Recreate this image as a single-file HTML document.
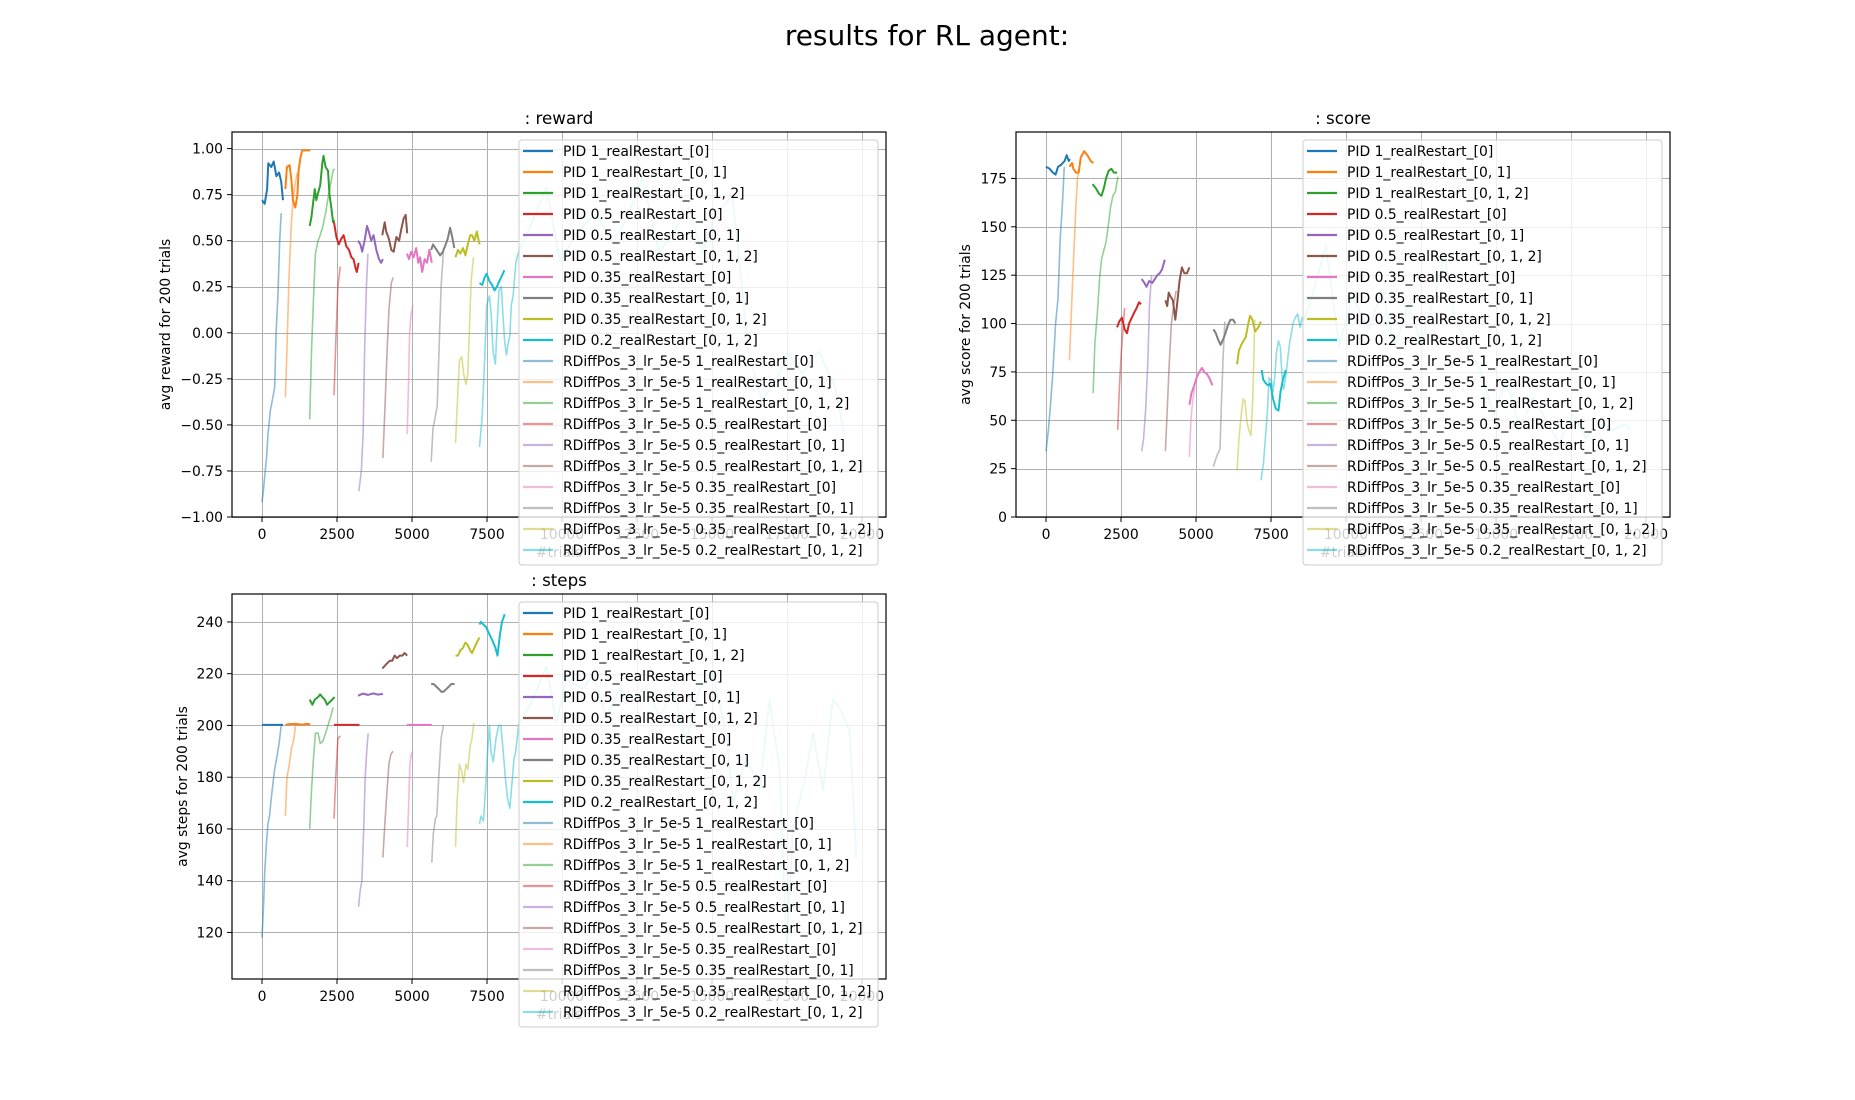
<!DOCTYPE html>
<html><head><meta charset="utf-8"><style>
html,body{margin:0;padding:0;background:#fff;}
svg{display:block;font-family:"DejaVu Sans","Liberation Sans",sans-serif;}
</style></head><body>
<svg id="fig" width="1855" height="1100" viewBox="0 0 1855 1100" xmlns="http://www.w3.org/2000/svg">
<rect width="1855" height="1100" fill="#fff"/>
<text x="927" y="45" font-size="28" text-anchor="middle">results for RL agent:</text>
</svg>
<script>
const seriesNames = ["PID 1_realRestart_[0]","PID 1_realRestart_[0, 1]","PID 1_realRestart_[0, 1, 2]","PID 0.5_realRestart_[0]","PID 0.5_realRestart_[0, 1]","PID 0.5_realRestart_[0, 1, 2]","PID 0.35_realRestart_[0]","PID 0.35_realRestart_[0, 1]","PID 0.35_realRestart_[0, 1, 2]","PID 0.2_realRestart_[0, 1, 2]","RDiffPos_3_lr_5e-5 1_realRestart_[0]","RDiffPos_3_lr_5e-5 1_realRestart_[0, 1]","RDiffPos_3_lr_5e-5 1_realRestart_[0, 1, 2]","RDiffPos_3_lr_5e-5 0.5_realRestart_[0]","RDiffPos_3_lr_5e-5 0.5_realRestart_[0, 1]","RDiffPos_3_lr_5e-5 0.5_realRestart_[0, 1, 2]","RDiffPos_3_lr_5e-5 0.35_realRestart_[0]","RDiffPos_3_lr_5e-5 0.35_realRestart_[0, 1]","RDiffPos_3_lr_5e-5 0.35_realRestart_[0, 1, 2]","RDiffPos_3_lr_5e-5 0.2_realRestart_[0, 1, 2]"];
const xTicks = [0,2500,5000,7500,10000,12500,15000,17500,20000];
const rewardTicks = [-1.0,-0.75,-0.5,-0.25,0,0.25,0.5,0.75,1.0];
const scoreTicks = [0,25,50,75,100,125,150,175];
const stepsTicks = [120,140,160,180,200,220,240];

const rewardX = [
[0,90,170,210,310,390,480,570,640,700],
[780,830,920,980,1030,1110,1180,1220,1280,1340,1480,1610],
[1590,1650,1700,1760,1810,1870,1940,2010,2050,2120,2200,2250,2310,2370,2420],
[2400,2480,2560,2640,2720,2810,2900,2980,3050,3120,3160,3220],
[3200,3280,3340,3420,3500,3560,3640,3720,3810,3900,3970,4030],
[4010,4090,4140,4230,4310,4390,4480,4570,4640,4720,4790,4840],
[4830,4900,4970,5050,5140,5210,5270,5340,5420,5500,5580,5660],
[5640,5700,5780,5860,5940,6030,6100,6190,6270,6340,6410],
[6450,6530,6610,6700,6780,6860,6940,7000,7080,7160,7250],
[7250,7340,7420,7490,7580,7670,7750,7830,7910,8000,8080],
[0,50,90,150,200,280,340,420,470,530,590,640],
[780,830,900,980,1050,1120,1180],
[1590,1650,1720,1780,1870,1940,2030,2120,2200,2280,2370,2420],
[2400,2460,2530,2610],
[3230,3310,3370,3420,3480,3530],
[4030,4100,4170,4230,4310,4370],
[4840,4880,4920,4970,5030],
[5640,5700,5780,5840,5900,5970,6050],
[6450,6520,6580,6660,6720,6800,6860,6910,6970,7050],
[7250,7340,7420,7490,7580,7640,7700,7780,7840,7900,7980,8030,8090,8150,8200,8260,8310,8370,8460,8570,8920,9480,9920,10580,11140,11690,12130,12680,13240,13790,14240,14680,15120,15680,16230,16670,17120,17560,18000,18560,19120,19400]
];
const rewardY = [
[0.72,0.70,0.78,0.92,0.90,0.93,0.85,0.87,0.82,0.72],
[0.78,0.90,0.91,0.83,0.72,0.68,0.75,0.88,0.95,0.99,0.99,0.99],
[0.58,0.63,0.70,0.78,0.72,0.76,0.80,0.92,0.96,0.90,0.88,0.75,0.68,0.60,0.61],
[0.60,0.52,0.48,0.51,0.53,0.47,0.45,0.41,0.40,0.35,0.33,0.38],
[0.50,0.48,0.44,0.50,0.58,0.55,0.50,0.53,0.45,0.40,0.38,0.40],
[0.53,0.60,0.55,0.51,0.45,0.44,0.52,0.50,0.56,0.62,0.64,0.54],
[0.43,0.40,0.44,0.41,0.46,0.38,0.41,0.33,0.40,0.38,0.45,0.38],
[0.45,0.48,0.46,0.44,0.42,0.44,0.47,0.51,0.57,0.52,0.46],
[0.41,0.45,0.43,0.46,0.42,0.48,0.53,0.53,0.50,0.55,0.48],
[0.27,0.26,0.30,0.32,0.28,0.26,0.23,0.25,0.28,0.31,0.34],
[-0.92,-0.85,-0.78,-0.68,-0.55,-0.42,-0.37,-0.30,0.0,0.2,0.5,0.65],
[-0.35,-0.1,0.3,0.6,0.75,0.82,0.87],
[-0.47,-0.1,0.2,0.43,0.50,0.53,0.58,0.65,0.73,0.80,0.88,0.89],
[-0.34,-0.05,0.25,0.36],
[-0.86,-0.75,-0.55,-0.1,0.25,0.43],
[-0.68,-0.40,-0.1,0.12,0.27,0.30],
[-0.55,-0.30,0.0,0.1,0.15],
[-0.70,-0.52,-0.45,-0.40,-0.1,0.25,0.45],
[-0.60,-0.35,-0.15,-0.13,-0.22,-0.28,-0.22,0.0,0.28,0.41],
[-0.62,-0.45,-0.15,0.15,0.20,0.10,-0.10,-0.17,0.05,0.23,0.25,0.10,-0.05,-0.12,-0.06,-0.02,0.15,0.20,0.38,0.45,0.57,0.79,0.39,0.56,0.65,0.49,0.61,0.84,0.43,0.57,0.68,0.43,0.65,0.74,-0.11,-0.37,-0.26,-0.11,-0.22,-0.10,-0.30,-0.55]
];

const scoreX = [
[0,120,230,320,400,500,620,690,760,800],
[780,870,910,1000,1090,1160,1270,1380,1490,1580],
[1550,1660,1770,1850,1930,2000,2090,2180,2260,2370],
[2370,2440,2530,2620,2700,2770,2860,2950,3020,3100,3170],
[3190,3280,3350,3440,3540,3630,3710,3790,3870,3960],
[3980,4040,4090,4150,4230,4310,4370,4450,4530,4610,4700,4780],
[4780,4850,4940,5020,5110,5200,5270,5360,5440,5550],
[5580,5660,5730,5820,5910,5980,6060,6150,6240,6310],
[6370,6430,6510,6580,6660,6730,6800,6880,6970,7080,7160],
[7190,7240,7330,7410,7480,7570,7660,7750,7820,7900,7990],
[0,80,150,230,320,400,470,540,610],
[780,830,910,1000,1050,1100],
[1570,1630,1710,1790,1850,1930,2000,2070,2150,2230,2310,2400],
[2390,2440,2510,2570,2620],
[3190,3250,3320,3390,3450,3520],
[3980,4040,4110,4180,4260,4340],
[4780,4830,4890,4960],
[5580,5660,5730,5800,5850,5910,5960],
[6370,6430,6500,6570,6630,6700,6760,6830,6890,6960],
[7170,7250,7310,7380,7440,7520,7570,7630,7680,7750,7810,7880,7920,7990,8060,8120,8170,8230,8310,8390,8470,8540,8600,8790,9330,9770,10210,10760,11200,11640,12070,12510,12950,13280,13610,14040,14480,14920,15360,15800,16240,16680,17110,17550,17990,18430,18870,19310,19480]
];
const scoreY = [
[181,180,178,177,181,182,184,187,184,185],
[181,183,180,178,178,186,189,187,184,183],
[172,170,167,166,170,175,179,180,178,178],
[98,101,103,97,95,100,103,106,108,111,110],
[123,121,119,122,121,123,125,126,128,133],
[112,109,116,114,112,102,110,122,129,126,126,129],
[58,64,68,72,75,77,75,74,72,68],
[97,95,92,89,92,95,99,102,102,100],
[79,86,89,91,93,99,104,102,96,98,101],
[76,71,69,68,69,61,56,55,65,71,76],
[34,45,58,75,100,113,143,160,181],
[81,100,130,162,175,180],
[64,90,105,124,133,138,142,150,160,166,168,176],
[45,65,85,98,108],
[34,40,55,78,110,125],
[34,55,80,100,110,117],
[31,50,60,67],
[26,30,33,35,60,85,101],
[24,40,52,61,60,49,45,42,60,102],
[19,28,40,55,72,70,65,73,85,91,88,70,66,72,82,90,94,100,103,105,98,103,102,110,140,88,114,97,117,88,110,90,114,135,104,88,76,53,71,45,62,50,38,53,41,50,45,48,45]
];

const stepsX = [
[0,700],
[780,920,1060,1200,1340,1480,1610],
[1590,1680,1760,1870,1940,2010,2090,2170,2250,2340,2420],
[2400,3250],
[3200,3370,3530,3700,3870,4030],
[4010,4090,4170,4260,4340,4420,4500,4590,4680,4750,4840],
[4830,5660],
[5640,5720,5810,5900,5980,6050,6140,6230,6310,6420],
[6450,6530,6610,6700,6780,6860,6940,7000,7080,7160,7250],
[7250,7300,7380,7470,7550,7630,7710,7780,7850,7930,8000,8090],
[0,50,90,150,200,250,310,370,420,500,570,640],
[780,830,900,980,1050,1120],
[1590,1650,1720,1780,1870,1940,2030,2120,2200,2280,2370],
[2400,2460,2530,2610],
[3220,3270,3330,3390,3440,3490,3540],
[4030,4100,4170,4230,4300,4370],
[4840,4890,4930,4980,5030],
[5660,5710,5780,5830,5890,5970,6050],
[6450,6500,6580,6660,6720,6800,6860,6940,7000,7060],
[7250,7300,7380,7450,7520,7580,7630,7710,7800,7890,7960,8040,8110,8180,8260,8350,8400,8460,8550,8590,9030,9480,9810,10150,10700,11030,11480,11920,12370,12810,13260,13700,14140,14590,15030,15480,15700,16150,16590,16920,17260,17480,17700,18140,18370,18700,19030,19250,19590,19810]
];
const stepsY = [
[200.2,200.2],
[200.3,200.5,200.6,200.5,200.3,200.6,200.4],
[210,208,210,211,212,211,210,208,209,210,211],
[200.2,200.2],
[211.5,212.3,211.8,212.4,211.9,212.2],
[222,223,224,225,225,227,226,227,227,228,227],
[200.2,200.2],
[216,216,215,214,213,213,214,215,216,216],
[227,227,229,230,232,231,229,228,230,232,234],
[239,240,239,238,236,234,232,230,227,235,240,243],
[118,130,143,155,162,165,172,178,183,188,193,200],
[165,180,184,191,194,200],
[160,175,188,197,197,193,194,197,200,203,207],
[164,180,195,196],
[130,136,140,160,180,190,197],
[149,163,175,185,189,190],
[153,170,185,189,190],
[147,158,164,165,180,195,200],
[153,170,185,182,178,185,183,192,195,201],
[162,165,163,175,190,200,190,186,195,200,200,190,180,172,168,180,187,190,200,201,210,223,201,218,214,220,203,214,210,215,203,214,194,214,220,196,170,188,175,210,182,114,160,182,197,175,210,207,198,149]
];

const colors = ["#1f77b4","#ff7f0e","#2ca02c","#d62728","#9467bd","#8c564b","#e377c2","#7f7f7f","#bcbd22","#17becf"];
const NS = "http://www.w3.org/2000/svg";
const svg = document.getElementById('fig');

function mk(tag, attrs, parent){
  const e = document.createElementNS(NS, tag);
  for (const k in attrs) e.setAttribute(k, attrs[k]);
  (parent||svg).appendChild(e);
  return e;
}

function drawChart(cfg){
  const g = mk('g', {});
  
  
  const L=cfg.left, T=cfg.top, R=cfg.right, B=cfg.bottom;
  const sx = v => L + (v - cfg.xmin) / (cfg.xmax - cfg.xmin) * (R - L);
  const sy = v => B - (v - cfg.ymin) / (cfg.ymax - cfg.ymin) * (B - T);
  const clip = mk('clipPath', {id: 'clip-' + cfg.name}, g);
  mk('rect', {x:L, y:T, width:R-L, height:B-T}, clip);
  const grid = mk('g', {stroke:'#b0b0b0', 'stroke-width':1}, g);
  
  
  xTicks.forEach(v => { const x = Math.round(sx(v))+0.5; mk('line', {x1:x, x2:x, y1:T, y2:B}, grid); });
  cfg.yticks.forEach(v => { const y = Math.round(sy(v))+0.5; mk('line', {x1:L, x2:R, y1:y, y2:y}, grid); });
  xTicks.forEach(v => {
    const x = sx(v);
    mk('line', {x1:x, x2:x, y1:B, y2:B+5, stroke:'#000', 'stroke-width':1}, g);
    const t = mk('text', {x:x, y:B+22, 'font-size':13.9, 'text-anchor':'middle'}, g);
    
    
    t.textContent = String(v);
  });
  cfg.yticks.forEach(v => {
    const y = sy(v);
    mk('line', {x1:L-5, x2:L, y1:y, y2:y, stroke:'#000', 'stroke-width':1}, g);
    const t = mk('text', {x:L-9, y:y+5, 'font-size':13.9, 'text-anchor':'end'}, g);
    
    
    t.textContent = cfg.fmt(v);
  });
  const xl = mk('text', {x:(L+R)/2, y:B+40, 'font-size':13.9, 'text-anchor':'middle'}, g);
  
  
  xl.textContent = '#trials';
  const yl = mk('text', {x:0, y:0, 'font-size':13.9, 'text-anchor':'middle', transform:'translate(' + cfg.ylabelX + ',' + ((T+B)/2) + ') rotate(-90)'}, g);
  
  
  yl.textContent = cfg.ylabel;
  const tt = mk('text', {x:(L+R)/2, y:T-8, 'font-size':16.7, 'text-anchor':'middle'}, g);
  
  
  tt.textContent = ': ' + cfg.name;
  const sg = mk('g', {'clip-path':'url(#clip-' + cfg.name + ')', fill:'none', 'stroke-linejoin':'round'}, g);
  cfg.xs.forEach((xs, i) => {
    const ys = cfg.ys[i];
    const d = xs.map((xv, j) => (j ? 'L' : 'M') + sx(xv).toFixed(1) + ',' + sy(ys[j]).toFixed(1)).join('');
    const light = i >= 10;
    const p = mk('path', {d:d, stroke:colors[i%10], 'stroke-width': light ? 1.6 : 2.0, 'stroke-opacity': light ? 0.5 : 1}, sg);
    
    
  });
  mk('rect', {x:L, y:T, width:R-L, height:B-T, fill:'none', stroke:'#000', 'stroke-width':1.2}, g);
  const lg = mk('g', {}, g);
  
  
  const lx = cfg.legX, ly = cfg.legY;
  mk('rect', {x:lx, y:ly, width:359, height:425, rx:3, fill:'#fff', 'fill-opacity':0.8, stroke:'#cccccc', 'stroke-width':1}, lg);
  seriesNames.forEach((nm, i) => {
    const cy = ly + 11 + i*21;
    const light = i >= 10;
    mk('line', {x1:lx+4, x2:lx+34, y1:cy, y2:cy, stroke:colors[i%10], 'stroke-width':2.2, 'stroke-opacity': light?0.5:1}, lg);
    const t = mk('text', {x:lx+44, y:cy+5, 'font-size':13.9}, lg);
    
    
    t.textContent = nm;
  });
}

drawChart({name:'reward', left:232, top:132, right:886, bottom:517, xmin:-1000, xmax:20800, ymin:-1.0, ymax:1.09,
  yticks:rewardTicks, fmt:v => (v<0?'\u2212':'') + Math.abs(v).toFixed(2), ylabel:'avg reward for 200 trials', ylabelX:170,
  xs:rewardX, ys:rewardY, legX:519, legY:140});
drawChart({name:'score', left:1016, top:132, right:1670, bottom:517, xmin:-1000, xmax:20800, ymin:0, ymax:199,
  yticks:scoreTicks, fmt:v => String(v), ylabel:'avg score for 200 trials', ylabelX:970,
  xs:scoreX, ys:scoreY, legX:1303, legY:140});
drawChart({name:'steps', left:232, top:594, right:886, bottom:979, xmin:-1000, xmax:20800, ymin:102, ymax:250.8,
  yticks:stepsTicks, fmt:v => String(v), ylabel:'avg steps for 200 trials', ylabelX:187,
  xs:stepsX, ys:stepsY, legX:519, legY:602});
</script>
</body></html>
